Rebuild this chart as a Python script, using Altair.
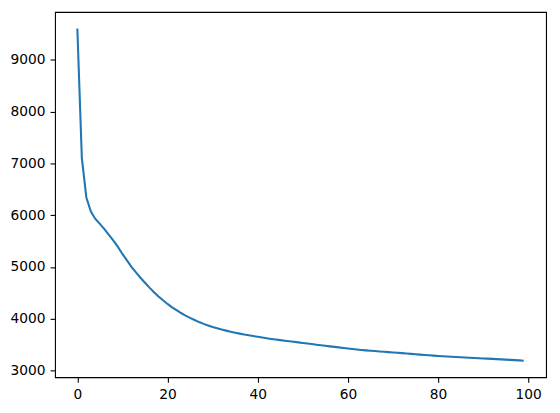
import altair as alt
import pandas as pd

epochs = list(range(100))
loss = [
    9600, 7100, 6340, 6070, 5925, 5830, 5730, 5620, 5505, 5385,
    5250, 5125, 5000, 4895, 4790, 4695, 4600, 4510, 4430, 4355,
    4285, 4220, 4165, 4110, 4060, 4015, 3975, 3935, 3900, 3870,
    3840, 3815, 3790, 3770, 3750, 3730, 3712, 3695, 3680, 3665,
    3650, 3636, 3623, 3610, 3598, 3587, 3576, 3565, 3554, 3543,
    3532, 3521, 3510, 3499, 3488, 3477, 3466, 3456, 3446, 3436,
    3426, 3416, 3406, 3397, 3389, 3382, 3375, 3368, 3361, 3355,
    3349, 3342, 3335, 3328, 3321, 3314, 3307, 3300, 3293, 3287,
    3281, 3275, 3270, 3265, 3260, 3255, 3250, 3246, 3242, 3238,
    3233, 3229, 3225, 3220, 3215, 3210, 3205, 3200, 3195, 3190,
]
x_ticks = [0, 20, 40, 60, 80, 100]
y_ticks = [3000, 4000, 5000, 6000, 7000, 8000, 9000]

df = pd.DataFrame({"epoch": epochs, "loss": loss})

xmin, xmax = min(epochs), max(epochs)
ymin, ymax = min(loss), max(loss)
xm = (xmax - xmin) * 0.05
ym = (ymax - ymin) * 0.05

axis_common = dict(
    grid=False,
    domain=False,
    tickColor="black",
    tickSize=5,
    tickWidth=1.1,
    labelPadding=5,
    labelFont="DejaVu Sans",
    labelFontSize=13.9,
    labelColor="black",
    format="d",
    title=None,
)

chart = (
    alt.Chart(df)
    .mark_line(color="#1f77b4", strokeWidth=2.1, clip=True)
    .encode(
        x=alt.X(
            "epoch:Q",
            scale=alt.Scale(domain=[xmin - xm, xmax + xm], nice=False, zero=False),
            axis=alt.Axis(values=x_ticks, **axis_common),
        ),
        y=alt.Y(
            "loss:Q",
            scale=alt.Scale(domain=[ymin - ym, ymax + ym], nice=False, zero=False),
            axis=alt.Axis(values=y_ticks, **axis_common),
        ),
    )
    .properties(
        width=496,
        height=369,
        background="white",
        autosize=alt.AutoSizeParams(type="none"),
        padding={"left": 47.5, "top": 2, "right": 6, "bottom": 26},
    )
    .configure_view(stroke="black", strokeWidth=1.1)
)

chart.save("out.html", embed_options={"renderer": "svg", "actions": False})
